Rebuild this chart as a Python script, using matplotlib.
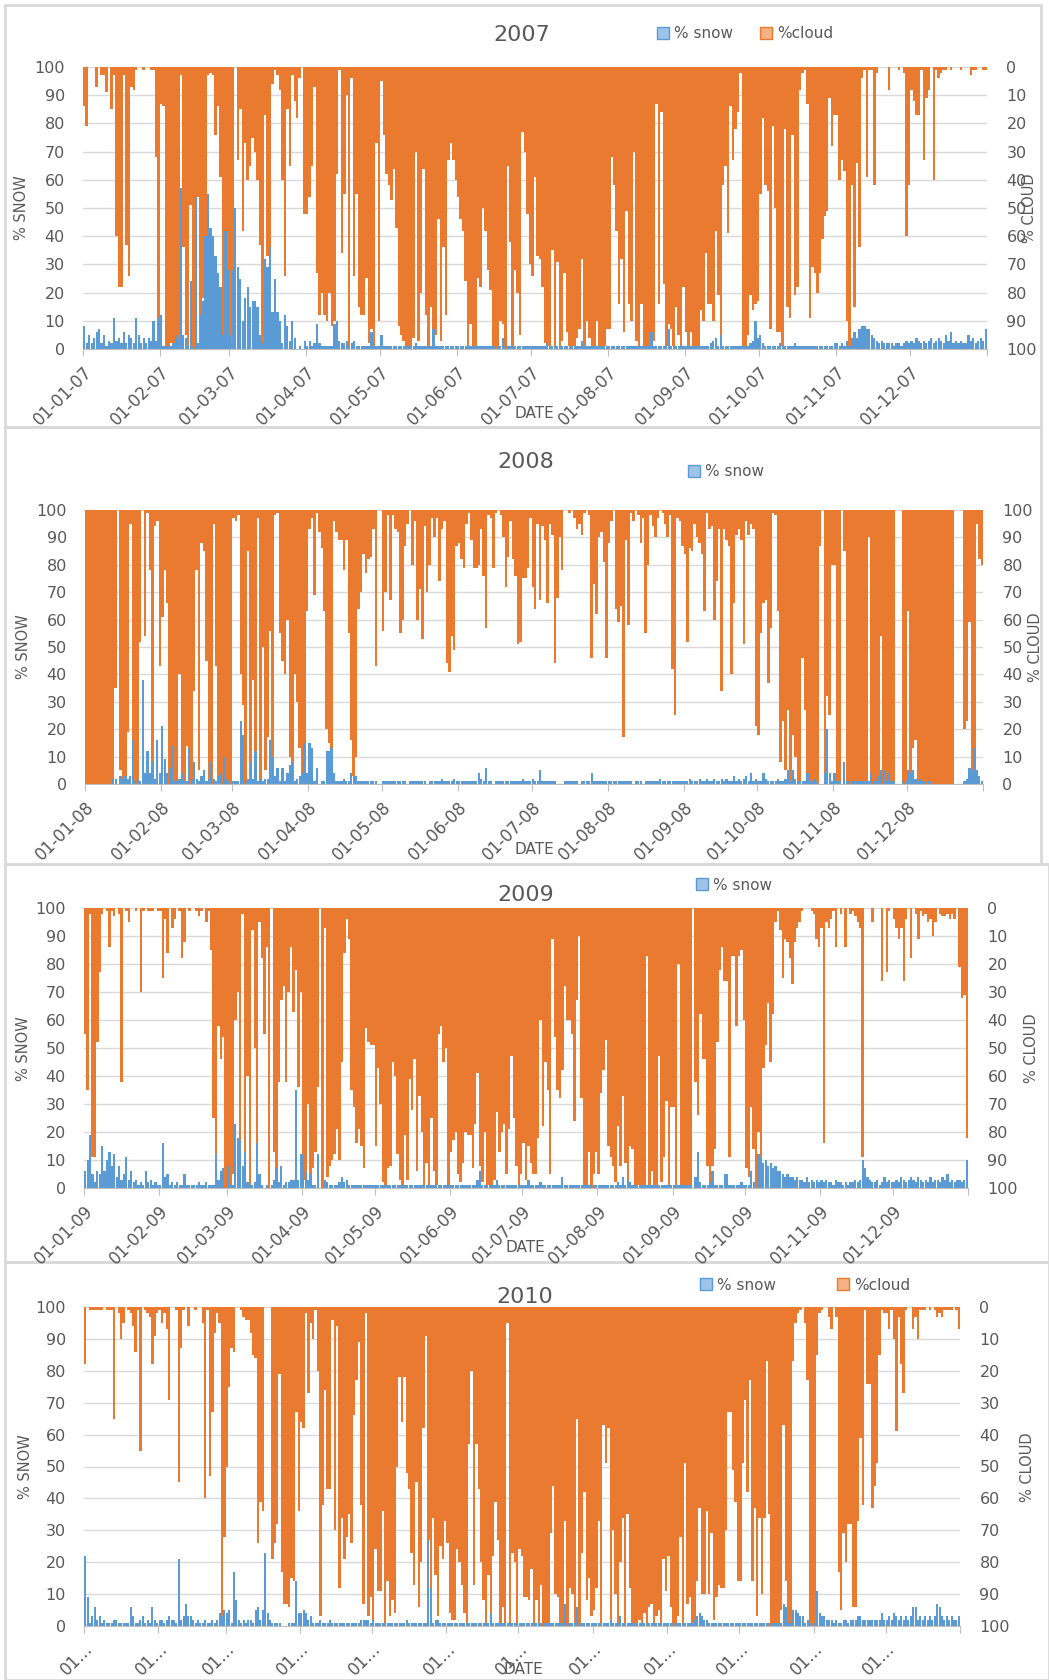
import numpy as np
import matplotlib
matplotlib.use("Agg")
import matplotlib.pyplot as plt
from matplotlib.patches import Patch, Rectangle

# ==========================================
# DAILY DATA (one inner list per month)
# cloud = % cloud cover, snow = % snow cover
# ==========================================
months_2007 = [31, 28, 31, 30, 31, 30, 31, 31, 30, 31, 30, 31]
months_2008 = [31, 29, 31, 30, 31, 30, 31, 31, 30, 31, 30, 31]
months_2009 = months_2007
months_2010 = months_2007

cloud_2007 = [
    [14, 21, 0, 0, 0, 7, 0, 3, 3, 9, 0, 15, 3, 60, 78, 78, 3, 63, 74, 7, 8, 1, 0, 0, 1, 0, 0, 1, 1, 32, 94],
    [13, 14, 100, 100, 98, 100, 100, 100, 3, 64, 95, 100, 49, 100, 100, 46, 100, 82, 60, 3, 2, 3, 24, 14, 39, 96, 70, 90],
    [100, 100, 0, 33, 15, 58, 27, 40, 35, 25, 30, 40, 63, 100, 17, 67, 64, 6, 1, 3, 8, 40, 74, 15, 35, 3, 12, 18, 4, 0, 52],
    [52, 46, 35, 7, 73, 88, 80, 88, 90, 80, 92, 90, 38, 1, 66, 45, 10, 100, 4, 74, 45, 85, 88, 88, 75, 98, 93, 100, 27, 90],
    [5, 24, 38, 42, 47, 36, 57, 92, 95, 97, 100, 100, 99, 96, 30, 97, 80, 36, 88, 100, 85, 100, 95, 54, 97, 64, 88, 33, 27, 33, 40],
    [46, 54, 58, 76, 100, 91, 100, 100, 75, 78, 50, 58, 72, 79, 100, 100, 100, 90, 91, 100, 35, 62, 100, 72, 80, 95, 23, 30, 52, 70],
    [74, 39, 67, 68, 78, 98, 99, 99, 65, 99, 69, 99, 97, 73, 94, 99, 99, 99, 96, 93, 68, 99, 90, 96, 99, 99, 90, 99, 99, 99, 93],
    [93, 32, 42, 58, 84, 68, 94, 51, 84, 90, 30, 97, 99, 84, 99, 99, 99, 99, 97, 13, 84, 16, 77, 99, 91, 93, 99, 85, 95, 99, 78],
    [94, 99, 94, 99, 99, 99, 86, 90, 66, 84, 84, 90, 58, 81, 99, 42, 35, 59, 14, 33, 22, 16, 2, 99, 99, 95, 81, 86, 84, 83],
    [45, 18, 42, 44, 93, 21, 50, 94, 94, 99, 22, 85, 89, 24, 81, 78, 8, 2, 1, 13, 89, 71, 73, 80, 73, 61, 53, 51, 11, 28, 17],
    [17, 40, 33, 37, 90, 99, 42, 85, 34, 64, 4, 1, 39, 1, 1, 42, 2, 0, 0, 0, 0, 8, 0, 0, 0, 1, 0, 2, 60, 42],
    [8, 12, 17, 17, 1, 33, 11, 8, 0, 40, 1, 4, 2, 1, 1, 0, 1, 0, 0, 0, 1, 0, 0, 0, 3, 1, 1, 0, 0, 1, 1],
]
snow_2007 = [
    [8, 2, 5, 2, 4, 6, 7, 2, 5, 1, 3, 2, 11, 3, 4, 2, 6, 2, 5, 4, 2, 11, 5, 2, 4, 2, 4, 3, 10, 3, 11],
    [12, 1, 1, 1, 1, 2, 5, 4, 57, 5, 4, 1, 24, 1, 54, 2, 12, 17, 40, 55, 43, 40, 33, 27, 22, 5, 42, 28],
    [5, 28, 50, 29, 25, 10, 18, 22, 15, 17, 17, 15, 5, 2, 32, 29, 36, 13, 25, 13, 10, 2, 12, 8, 3, 10, 4, 0, 1, 0, 3],
    [1, 3, 1, 2, 9, 2, 1, 1, 1, 1, 1, 9, 10, 3, 2, 2, 3, 1, 2, 3, 1, 1, 1, 1, 1, 1, 6, 1, 1, 1],
    [5, 1, 1, 1, 1, 1, 1, 1, 1, 1, 1, 1, 1, 1, 2, 1, 1, 1, 1, 1, 1, 7, 1, 1, 1, 1, 1, 1, 1, 1, 1],
    [1, 1, 1, 1, 1, 1, 1, 1, 1, 1, 1, 1, 1, 1, 1, 1, 1, 1, 4, 1, 1, 1, 1, 1, 1, 1, 1, 1, 1, 1],
    [1, 1, 1, 1, 1, 1, 2, 1, 1, 1, 1, 1, 1, 1, 1, 1, 1, 1, 1, 1, 3, 1, 1, 1, 1, 1, 1, 1, 1, 1, 1],
    [1, 1, 1, 1, 1, 1, 1, 1, 1, 1, 1, 1, 1, 1, 1, 1, 1, 6, 1, 1, 1, 1, 1, 1, 7, 1, 1, 1, 1, 1, 1],
    [1, 1, 1, 1, 1, 1, 1, 1, 1, 1, 2, 3, 4, 1, 5, 1, 1, 1, 1, 1, 1, 1, 1, 1, 1, 1, 2, 3, 10, 4],
    [5, 2, 1, 1, 1, 1, 1, 1, 2, 1, 1, 1, 1, 1, 2, 1, 1, 1, 1, 1, 1, 1, 1, 1, 1, 1, 1, 1, 1, 1, 2],
    [2, 1, 2, 1, 3, 1, 4, 6, 4, 7, 8, 8, 7, 7, 5, 4, 3, 2, 3, 2, 2, 2, 2, 1, 2, 2, 1, 2, 3, 2],
    [3, 2, 4, 3, 2, 3, 2, 3, 4, 2, 3, 4, 3, 2, 5, 3, 6, 2, 3, 2, 3, 2, 2, 5, 3, 4, 2, 3, 4, 3, 7],
]

cloud_2008 = [
    [100, 100, 100, 100, 100, 100, 100, 100, 100, 100, 100, 100, 65, 0, 95, 100, 100, 81, 5, 100, 100, 100, 48, 0, 46, 1, 22, 92, 6, 4, 57],
    [39, 22, 34, 100, 100, 100, 100, 60, 100, 100, 86, 100, 100, 66, 22, 95, 12, 15, 55, 100, 100, 5, 57, 100, 100, 100, 100, 100, 100],
    [3, 4, 2, 60, 71, 100, 15, 100, 62, 100, 3, 100, 50, 95, 83, 44, 100, 2, 1, 45, 55, 60, 40, 90, 100, 60, 70, 87, 100, 100, 37],
    [7, 3, 31, 1, 8, 14, 37, 80, 85, 100, 4, 8, 11, 11, 22, 11, 45, 84, 97, 90, 36, 30, 16, 23, 18, 17, 7, 57, 0, 0],
    [44, 30, 2, 33, 2, 7, 8, 45, 40, 13, 5, 0, 20, 4, 40, 29, 47, 6, 30, 20, 3, 10, 3, 26, 7, 4, 56, 59, 46, 51, 13],
    [12, 18, 21, 5, 1, 11, 21, 21, 20, 7, 24, 43, 2, 3, 21, 1, 0, 2, 10, 28, 17, 4, 18, 24, 49, 48, 25, 25, 21, 3],
    [28, 36, 5, 33, 6, 11, 34, 5, 9, 56, 32, 10, 22, 0, 0, 1, 0, 3, 7, 5, 9, 1, 0, 2, 54, 27, 38, 10, 8, 19, 54],
    [12, 4, 0, 36, 41, 35, 83, 11, 42, 1, 4, 0, 2, 12, 3, 45, 20, 2, 6, 10, 3, 0, 1, 5, 10, 2, 58, 75, 3, 4, 13],
    [16, 48, 14, 15, 5, 10, 12, 16, 37, 1, 7, 6, 40, 26, 7, 66, 7, 11, 13, 60, 34, 9, 7, 11, 49, 4, 9, 5, 7, 79],
    [82, 45, 34, 33, 63, 43, 1, 2, 37, 92, 77, 95, 73, 100, 82, 90, 100, 100, 54, 73, 100, 100, 100, 100, 100, 13, 0, 100, 68, 75, 20],
    [20, 100, 100, 0, 15, 100, 100, 100, 100, 100, 100, 100, 100, 100, 10, 100, 100, 100, 100, 46, 100, 100, 100, 100, 100, 0, 0, 0, 100, 100],
    [37, 100, 87, 84, 100, 100, 100, 100, 100, 100, 100, 100, 100, 100, 100, 100, 100, 100, 100, 0, 0, 0, 0, 80, 77, 41, 95, 100, 5, 18, 20],
]
snow_2008 = [
    [0, 0, 0, 0, 0, 0, 0, 0, 0, 0, 0, 2, 2, 0, 3, 2, 3, 2, 3, 16, 1, 2, 1, 38, 4, 12, 4, 8, 2, 16, 4],
    [21, 9, 4, 6, 14, 1, 1, 2, 4, 1, 1, 13, 2, 8, 2, 1, 3, 5, 1, 2, 8, 2, 1, 3, 4, 10, 2, 1, 0],
    [1, 1, 1, 23, 18, 1, 2, 8, 2, 12, 1, 2, 1, 2, 2, 16, 10, 3, 6, 1, 6, 1, 4, 7, 8, 1, 2, 3, 4, 15, 4],
    [15, 13, 1, 6, 0, 1, 1, 12, 12, 13, 4, 1, 1, 1, 2, 1, 1, 4, 3, 3, 1, 1, 1, 1, 1, 1, 1, 1, 0, 0],
    [1, 1, 1, 1, 1, 1, 1, 1, 1, 1, 0, 1, 1, 1, 1, 1, 1, 1, 0, 1, 1, 1, 1, 1, 2, 1, 1, 1, 1, 2, 1],
    [1, 1, 1, 1, 1, 1, 1, 1, 4, 2, 1, 6, 1, 1, 0, 1, 1, 1, 1, 1, 1, 1, 1, 1, 1, 1, 2, 1, 1, 1],
    [2, 1, 1, 5, 1, 1, 1, 1, 1, 1, 0, 0, 0, 1, 1, 1, 1, 1, 1, 0, 1, 1, 1, 1, 4, 1, 1, 1, 1, 1, 1],
    [1, 1, 1, 1, 1, 1, 1, 1, 1, 1, 0, 1, 1, 1, 0, 1, 1, 1, 1, 1, 1, 2, 1, 1, 1, 1, 1, 1, 1, 1, 1],
    [1, 1, 2, 1, 1, 1, 2, 1, 1, 2, 1, 1, 2, 1, 1, 2, 1, 2, 1, 1, 3, 1, 2, 1, 2, 3, 1, 4, 1, 2],
    [1, 1, 4, 2, 1, 1, 1, 1, 2, 1, 1, 2, 5, 1, 5, 2, 1, 1, 1, 1, 4, 1, 1, 2, 1, 0, 0, 4, 20, 4, 1],
    [4, 1, 1, 0, 8, 1, 1, 1, 1, 1, 1, 1, 1, 1, 1, 4, 1, 1, 3, 5, 5, 1, 4, 1, 1, 0, 0, 0, 1, 1],
    [5, 4, 5, 2, 1, 2, 1, 1, 1, 1, 0, 0, 0, 0, 0, 0, 0, 0, 0, 0, 0, 0, 0, 1, 2, 6, 5, 13, 5, 3, 1],
]

cloud_2009 = [
    [45, 65, 2, 89, 89, 48, 23, 2, 0, 1, 14, 1, 3, 0, 2, 62, 0, 1, 5, 0, 0, 1, 0, 30, 1, 0, 1, 1, 1, 0, 1],
    [1, 25, 4, 16, 0, 7, 4, 0, 1, 18, 12, 0, 1, 0, 0, 1, 3, 1, 0, 5, 1, 15, 75, 88, 42, 54, 46, 100],
    [100, 100, 95, 40, 30, 100, 2, 100, 60, 100, 8, 50, 95, 5, 18, 45, 14, 100, 0, 87, 100, 62, 33, 28, 62, 30, 14, 37, 22, 64, 30],
    [94, 97, 70, 100, 93, 87, 64, 0, 100, 7, 96, 92, 90, 88, 79, 90, 55, 16, 4, 11, 65, 71, 84, 79, 85, 93, 43, 48, 49, 49],
    [85, 57, 70, 98, 100, 93, 92, 55, 60, 88, 97, 100, 81, 97, 61, 72, 54, 94, 67, 80, 99, 91, 99, 75, 94, 99, 45, 42, 55, 50, 99],
    [87, 83, 80, 95, 98, 91, 80, 81, 81, 93, 77, 59, 92, 98, 80, 100, 99, 100, 97, 73, 87, 80, 77, 95, 79, 53, 75, 92, 99, 95],
    [84, 97, 85, 91, 95, 95, 82, 40, 78, 55, 65, 95, 11, 46, 65, 68, 58, 28, 40, 40, 45, 76, 33, 10, 68, 99, 99, 87, 100, 95, 87],
    [95, 66, 58, 47, 85, 89, 92, 98, 78, 92, 67, 91, 100, 85, 86, 100, 99, 99, 99, 100, 17, 99, 94, 100, 100, 53, 98, 89, 69, 100, 71],
    [71, 100, 20, 100, 100, 100, 100, 100, 0, 62, 74, 38, 54, 54, 92, 99, 92, 86, 48, 22, 14, 26, 26, 89, 17, 17, 42, 17, 15, 40],
    [93, 96, 71, 86, 100, 80, 100, 57, 49, 34, 55, 38, 5, 1, 8, 25, 11, 12, 18, 27, 12, 7, 5, 1, 0, 0, 0, 1, 2, 11, 14],
    [7, 84, 5, 7, 4, 1, 14, 0, 2, 0, 14, 0, 2, 1, 3, 5, 7, 89, 0, 0, 0, 5, 0, 0, 0, 26, 0, 23, 1, 0],
    [4, 7, 11, 7, 26, 4, 0, 18, 0, 2, 11, 1, 3, 2, 5, 4, 10, 5, 0, 2, 3, 3, 2, 4, 2, 4, 0, 21, 32, 31, 82],
]
snow_2009 = [
    [6, 10, 19, 5, 2, 6, 5, 15, 6, 10, 13, 8, 12, 4, 8, 3, 5, 11, 3, 6, 2, 3, 1, 2, 1, 6, 2, 3, 1, 2, 1],
    [1, 16, 4, 5, 1, 2, 1, 2, 1, 1, 5, 1, 1, 1, 1, 1, 2, 1, 1, 2, 1, 1, 1, 12, 3, 6, 7, 0],
    [8, 1, 1, 23, 18, 17, 8, 13, 2, 1, 1, 2, 16, 5, 1, 0, 1, 0, 1, 3, 7, 2, 8, 1, 2, 2, 3, 3, 35, 3, 12],
    [12, 6, 3, 5, 1, 1, 12, 0, 0, 3, 2, 1, 1, 1, 1, 2, 4, 2, 3, 1, 1, 1, 1, 1, 1, 1, 1, 1, 1, 1],
    [1, 1, 1, 1, 1, 1, 1, 1, 1, 1, 1, 1, 1, 1, 1, 1, 1, 1, 1, 1, 1, 1, 1, 1, 1, 1, 1, 1, 1, 1, 1],
    [1, 1, 1, 1, 1, 1, 1, 1, 1, 1, 1, 3, 6, 1, 1, 1, 1, 1, 1, 3, 1, 1, 1, 1, 1, 1, 1, 1, 1, 1],
    [1, 1, 3, 1, 1, 1, 1, 2, 1, 1, 1, 1, 1, 1, 1, 1, 4, 1, 1, 1, 1, 1, 1, 1, 1, 1, 1, 1, 1, 1, 1],
    [1, 1, 1, 1, 1, 1, 1, 1, 2, 1, 4, 1, 3, 2, 1, 1, 1, 1, 1, 1, 1, 1, 1, 1, 1, 1, 1, 1, 1, 1, 1],
    [1, 1, 1, 1, 1, 1, 1, 1, 0, 4, 13, 2, 1, 1, 1, 2, 6, 1, 1, 1, 1, 5, 5, 1, 1, 1, 1, 1, 2, 1],
    [1, 1, 6, 2, 0, 12, 11, 9, 10, 8, 9, 7, 8, 6, 6, 5, 4, 5, 4, 4, 3, 4, 3, 3, 2, 4, 2, 3, 2, 3, 2],
    [3, 2, 3, 2, 2, 1, 3, 2, 2, 1, 2, 1, 2, 2, 3, 2, 3, 10, 7, 4, 3, 2, 2, 3, 1, 2, 4, 2, 3, 2],
    [2, 3, 2, 4, 3, 2, 3, 4, 3, 2, 4, 3, 2, 3, 2, 4, 2, 3, 3, 2, 4, 3, 5, 2, 3, 2, 3, 3, 2, 3, 10],
]

cloud_2010 = [
    [18, 0, 1, 1, 1, 1, 1, 1, 0, 1, 1, 1, 35, 0, 2, 10, 5, 0, 1, 2, 6, 14, 1, 45, 0, 1, 2, 3, 18, 9, 2],
    [1, 5, 2, 7, 29, 0, 0, 1, 55, 13, 1, 0, 6, 0, 0, 1, 0, 0, 5, 60, 1, 53, 33, 8, 2, 5, 100, 72],
    [50, 25, 13, 14, 0, 0, 1, 3, 4, 4, 8, 15, 16, 74, 61, 64, 0, 0, 0, 79, 74, 68, 21, 83, 93, 93, 94, 85, 86, 33, 64],
    [36, 38, 2, 27, 5, 10, 1, 20, 97, 62, 26, 57, 57, 4, 70, 6, 88, 66, 79, 72, 65, 74, 34, 23, 11, 62, 93, 2, 97, 91],
    [100, 76, 89, 89, 64, 100, 86, 97, 92, 96, 50, 22, 36, 22, 52, 57, 77, 87, 55, 94, 80, 38, 9, 73, 96, 66, 84, 97, 75, 79, 67],
    [74, 96, 98, 98, 76, 80, 87, 96, 100, 43, 20, 87, 43, 57, 80, 92, 100, 84, 96, 78, 61, 73, 100, 94, 100, 5, 100, 77, 80, 100],
    [76, 78, 91, 91, 92, 82, 100, 92, 100, 87, 100, 100, 100, 71, 56, 90, 91, 100, 100, 67, 100, 88, 90, 100, 35, 100, 77, 58, 92, 85, 97],
    [95, 88, 67, 100, 37, 49, 38, 100, 70, 90, 100, 80, 66, 99, 65, 88, 100, 100, 100, 98, 100, 96, 100, 94, 93, 100, 97, 95, 100, 79, 89],
    [78, 94, 100, 100, 97, 72, 100, 49, 93, 91, 100, 100, 86, 63, 90, 90, 64, 90, 71, 98, 91, 87, 88, 88, 70, 33, 33, 51, 61, 86],
    [86, 49, 29, 58, 23, 86, 63, 97, 66, 90, 66, 17, 65, 100, 100, 100, 100, 95, 37, 86, 100, 100, 17, 5, 2, 1, 0, 5, 23, 100, 100],
    [100, 15, 2, 1, 0, 0, 3, 7, 0, 3, 83, 95, 71, 80, 68, 68, 94, 94, 67, 41, 62, 1, 24, 24, 63, 56, 49, 15, 1, 2],
    [2, 7, 1, 10, 39, 3, 18, 27, 1, 0, 0, 7, 3, 10, 1, 1, 1, 0, 1, 0, 1, 3, 2, 3, 1, 1, 1, 1, 0, 1, 7],
]
snow_2010 = [
    [22, 9, 1, 3, 6, 2, 3, 1, 2, 1, 1, 1, 2, 2, 1, 1, 1, 1, 1, 6, 3, 1, 1, 2, 3, 1, 2, 1, 6, 2, 1],
    [2, 2, 1, 2, 3, 2, 2, 1, 21, 2, 3, 7, 3, 3, 2, 1, 2, 1, 1, 2, 1, 1, 2, 1, 2, 4, 3, 5],
    [4, 5, 1, 17, 8, 2, 1, 2, 1, 2, 2, 1, 5, 6, 2, 5, 23, 4, 2, 1, 1, 1, 1, 0, 0, 0, 1, 1, 1, 14, 4],
    [4, 5, 4, 2, 3, 1, 1, 1, 2, 1, 1, 1, 2, 1, 1, 1, 1, 1, 1, 1, 1, 1, 1, 1, 1, 2, 2, 2, 2, 1],
    [2, 1, 1, 1, 1, 1, 1, 1, 1, 1, 1, 1, 1, 1, 2, 1, 1, 1, 1, 1, 1, 1, 1, 27, 12, 1, 2, 2, 1, 1, 1],
    [1, 1, 1, 1, 1, 1, 1, 1, 1, 1, 1, 1, 1, 1, 1, 1, 1, 1, 4, 1, 1, 1, 1, 1, 1, 1, 1, 1, 1, 1],
    [1, 1, 1, 1, 1, 1, 1, 1, 1, 1, 1, 1, 1, 1, 1, 1, 1, 1, 1, 7, 1, 1, 1, 1, 6, 1, 1, 1, 1, 1, 1],
    [1, 1, 1, 1, 1, 1, 1, 2, 1, 1, 1, 3, 1, 1, 1, 1, 1, 1, 1, 1, 1, 1, 1, 1, 1, 1, 1, 1, 1, 1, 1],
    [1, 1, 1, 1, 1, 1, 1, 1, 1, 1, 1, 2, 3, 4, 3, 2, 2, 1, 1, 1, 1, 1, 1, 1, 1, 1, 1, 1, 1, 1],
    [1, 1, 1, 1, 1, 1, 1, 1, 1, 1, 1, 1, 1, 1, 1, 1, 1, 1, 7, 6, 1, 1, 5, 5, 4, 3, 3, 1, 2, 1, 0],
    [1, 11, 4, 3, 3, 2, 2, 2, 1, 2, 1, 1, 2, 2, 1, 2, 2, 2, 3, 3, 2, 2, 2, 2, 2, 2, 2, 2, 4, 2],
    [2, 3, 2, 4, 3, 2, 3, 2, 3, 2, 3, 6, 6, 2, 3, 2, 3, 2, 3, 2, 3, 7, 6, 3, 2, 3, 2, 3, 2, 2, 3],
]

labels_2007 = ['01-01-07', '01-02-07', '01-03-07', '01-04-07', '01-05-07', '01-06-07',
               '01-07-07', '01-08-07', '01-09-07', '01-10-07', '01-11-07', '01-12-07']
labels_2008 = ['01-01-08', '01-02-08', '01-03-08', '01-04-08', '01-05-08', '01-06-08',
               '01-07-08', '01-08-08', '01-09-08', '01-10-08', '01-11-08', '01-12-08']
labels_2009 = ['01-01-09', '01-02-09', '01-03-09', '01-04-09', '01-05-09', '01-06-09',
               '01-07-09', '01-08-09', '01-09-09', '01-10-09', '01-11-09', '01-12-09']
labels_2010 = ['01…'] * 12

# ==========================================
# STYLE
# ==========================================
W, H = 1049, 1680
ORANGE = '#E97A2F'
BLUE = '#5B9BD5'
GRAY = '#595959'
GRID = '#D9D9D9'
AXIS = '#BFBFBF'

plt.rcParams['font.family'] = ['DejaVu Sans']

fig = plt.figure(figsize=(W / 100, H / 100), dpi=100)
fig.patch.set_facecolor('white')


def fx(px):
    return px / W


def fy(py):
    return 1 - py / H


def day_positions(month_len, months):
    xs, vs = [], []
    start = 0
    for n, vals in zip(month_len, months):
        xs.extend(start + np.arange(len(vals)) + 0.5)
        vs.extend(vals)
        start += n
    return np.array(xs), np.array(vs, dtype=float)


def draw_panel(box, cloud, snow, month_len, xlabels, inverted):
    l, t, r, b = box
    ax = fig.add_axes([fx(l), fy(b), (r - l) / W, (b - t) / H])
    ax2 = ax.twinx()

    xc, vc = day_positions(month_len, cloud)
    xs, vs = day_positions(month_len, snow)

    # cloud bars hang from the top of the plot
    if inverted:
        ax2.set_ylim(100, 0)
        ax2.bar(xc, vc, width=1.0, color=ORANGE, linewidth=0, antialiased=False)
    else:
        ax2.set_ylim(0, 100)
        ax2.bar(xc, -vc, bottom=100, width=1.0, color=ORANGE, linewidth=0, antialiased=False)
    ax.bar(xs, vs, width=0.9, color=BLUE, linewidth=0)

    ndays = sum(month_len)
    ax.set_xlim(0, ndays)
    ax.set_ylim(0, 100)

    # snow on top of cloud, grid below everything
    ax.set_zorder(ax2.get_zorder() + 1)
    ax.patch.set_visible(False)
    ax2.set_yticks(range(0, 101, 10))
    ax2.yaxis.grid(True, color=GRID, lw=1)
    ax2.set_axisbelow(True)
    ax.set_yticks(range(0, 101, 10))

    for s in ax.spines.values():
        s.set_visible(False)
    for s in ax2.spines.values():
        s.set_visible(False)
    ax.spines['bottom'].set_visible(True)
    ax.spines['bottom'].set_color(AXIS)

    ticks = np.cumsum([0] + month_len)
    ax.set_xticks(ticks)
    ax.set_xticklabels(xlabels + [''])
    ax.tick_params(axis='x', length=5, color=AXIS, labelsize=12, labelcolor=GRAY, pad=5)
    for lab in ax.get_xticklabels():
        lab.set_rotation(45)
        lab.set_ha('right')
        lab.set_rotation_mode('anchor')
    ax.tick_params(axis='y', length=0, pad=13, labelsize=11.5, labelcolor=GRAY)
    ax2.tick_params(axis='y', length=0, pad=14, labelsize=11.5, labelcolor=GRAY)
    return ax, ax2


def border(x0, y0, x1, y1):
    fig.add_artist(Rectangle((fx(x0), fy(y1)), (x1 - x0) / W, (y1 - y0) / H,
                             transform=fig.transFigure, fill=False,
                             edgecolor='#D9D9D9', lw=2))


def legend(cx, cy, with_cloud, spacing):
    handles = [Patch(facecolor='#9DC3E6', edgecolor=BLUE)]
    names = ['% snow']
    if with_cloud:
        handles.append(Patch(facecolor='#F4B183', edgecolor=ORANGE))
        names.append('%cloud')
    fig.legend(handles, names, loc='center', bbox_to_anchor=(fx(cx), fy(cy)),
               ncol=len(names), frameon=False, fontsize=11, labelcolor=GRAY,
               handlelength=0.8, handleheight=0.8, handletextpad=0.3,
               columnspacing=spacing)


def texts(title_xy, snow_xy, cloud_xy, date_xy, year):
    fig.text(fx(title_xy[0]), fy(title_xy[1]), year, ha='center', va='center',
             fontsize=16, color=GRAY)
    fig.text(fx(snow_xy[0]), fy(snow_xy[1]), '% SNOW', ha='center', va='center',
             rotation=90, fontsize=10.5, color=GRAY)
    fig.text(fx(cloud_xy[0]), fy(cloud_xy[1]), '% CLOUD', ha='center', va='center',
             rotation=90, fontsize=10.5, color=GRAY)
    fig.text(fx(date_xy[0]), fy(date_xy[1]), 'DATE', ha='center', va='center',
             fontsize=11, color=GRAY)


# ==========================================
# PANELS
# ==========================================
border(5, 5, 1041, 427)
border(5, 427, 1041, 864)
border(5, 864, 1049, 1262)
border(5, 1262, 1049, 1680)

draw_panel((83, 67, 987, 349), cloud_2007, snow_2007, months_2007, labels_2007, True)
texts((522, 35), (22, 208), (1029, 208), (534, 413), '2007')
legend(745, 34, True, 1.8)

draw_panel((85, 510, 983, 784), cloud_2008, snow_2008, months_2008, labels_2008, False)
texts((526, 462), (23, 647), (1035, 647), (534, 850), '2008')
legend(726, 472, False, 1.0)

draw_panel((84, 908, 968, 1188), cloud_2009, snow_2009, months_2009, labels_2009, True)
texts((526, 895), (23, 1049), (1032, 1048), (525, 1247), '2009')
legend(734, 885, False, 1.0)

draw_panel((84, 1307, 960, 1626), cloud_2010, snow_2010, months_2010, labels_2010, True)
texts((525, 1297), (25, 1467), (1028, 1467), (523, 1670), '2010')
legend(805, 1285, True, 4.0)

fig.savefig('out.png', dpi=100, facecolor='white')
